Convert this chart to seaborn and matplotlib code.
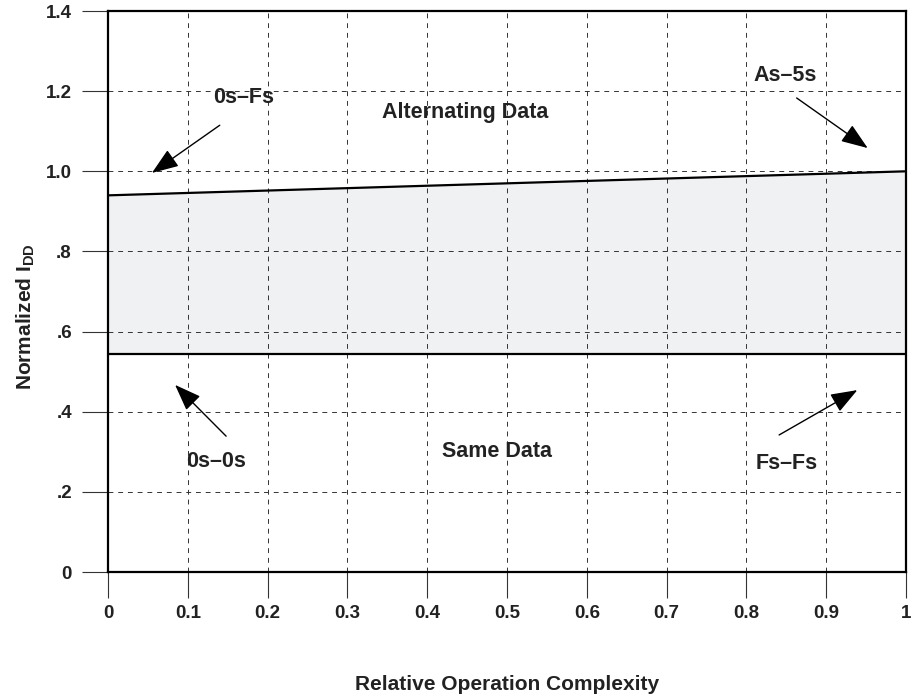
import matplotlib
matplotlib.use("Agg")
import matplotlib.pyplot as plt
import seaborn as sns
import pandas as pd

# data
complexity = [0.0, 1.0]
alternating_idd = [0.94, 1.0]
same_idd = [0.545, 0.545]
x_ticks = [0, 0.1, 0.2, 0.3, 0.4, 0.5, 0.6, 0.7, 0.8, 0.9, 1.0]
x_tick_labels = ["0", "0.1", "0.2", "0.3", "0.4", "0.5", "0.6", "0.7", "0.8", "0.9", "1"]
y_ticks = [0, 0.2, 0.4, 0.6, 0.8, 1.0, 1.2, 1.4]
y_tick_labels = ["0", ".2", ".4", ".6", ".8", "1.0", "1.2", "1.4"]

sns.set_theme(style="white")
plt.rcParams["font.family"] = ["Liberation Sans", "DejaVu Sans"]
plt.rcParams["font.weight"] = "bold"
plt.rcParams["mathtext.fontset"] = "custom"
plt.rcParams["mathtext.rm"] = "Liberation Sans:bold"
plt.rcParams["mathtext.bf"] = "Liberation Sans:bold"
plt.rcParams["mathtext.it"] = "Liberation Sans:bold"

fig = plt.figure(figsize=(9.11, 6.98), dpi=100)
ax = fig.add_axes([0.1186, 0.1805, 0.8759, 0.8037])

df = pd.DataFrame({"x": complexity, "alt": alternating_idd, "same": same_idd})
ax.fill_between(df["x"], df["same"], df["alt"], color="#f0f1f3", zorder=1, linewidth=0)
sns.lineplot(data=df, x="x", y="alt", color="black", linewidth=1.6, ax=ax, zorder=3)
sns.lineplot(data=df, x="x", y="same", color="black", linewidth=1.6, ax=ax, zorder=3)

ax.set_xlim(0, 1)
ax.set_ylim(0, 1.4)
ax.set_xticks(x_ticks)
ax.set_xticklabels(x_tick_labels)
ax.set_yticks(y_ticks)
ax.set_yticklabels(y_tick_labels)

ax.grid(True, linestyle=(0, (5, 5)), color="#333333", linewidth=0.7, zorder=2)
ax.set_axisbelow(False)
for s in ax.spines.values():
    s.set_visible(True)
    s.set_color("black")
    s.set_linewidth(1.6)
    s.set_zorder(4)

ax.tick_params(axis="both", which="major", direction="out", length=19, width=0.8,
               color="#333333", labelsize=13.5, labelcolor="#222222", bottom=True, left=True)
ax.tick_params(axis="x", pad=5)
ax.tick_params(axis="y", pad=7)
for lab in ax.get_xticklabels() + ax.get_yticklabels():
    lab.set_fontweight("bold")

ax.set_xlabel("Relative Operation Complexity", fontsize=15, fontweight="bold", color="#222222")
ax.set_ylabel(r"Normalized I$_{\mathrm{DD}}$", fontsize=15, fontweight="bold", color="#222222")
ax.xaxis.set_label_coords(0.5, -0.201, transform=ax.transAxes)
ax.yaxis.set_label_coords(-0.103, 0.456, transform=ax.transAxes)
ax.xaxis.label.set_va("center")
ax.yaxis.label.set_va("center")

tkw = dict(fontsize=15.5, fontweight="bold", ha="center", va="center", zorder=5, color="#222222")
akw = dict(arrowstyle="-|>,head_length=0.75,head_width=0.28", mutation_scale=22, lw=1.0,
           color="black", shrinkA=0, shrinkB=0)

ax.text(0.447, 1.146, "Alternating Data", **tkw)
ax.text(0.487, 0.30, "Same Data", **tkw)

ax.annotate("", xy=(0.055, 0.996), xytext=(0.14, 1.115), arrowprops=akw)
ax.text(0.17, 1.183, "0s\u2013Fs", **tkw)

ax.annotate("", xy=(0.952, 1.058), xytext=(0.863, 1.183), arrowprops=akw)
ax.text(0.848, 1.24, "As\u20135s", **tkw)

ax.annotate("", xy=(0.084, 0.467), xytext=(0.148, 0.339), arrowprops=akw)
ax.text(0.135, 0.275, "0s\u20130s", **tkw)

ax.annotate("", xy=(0.939, 0.454), xytext=(0.841, 0.342), arrowprops=akw)
ax.text(0.851, 0.272, "Fs\u2013Fs", **tkw)

fig.savefig("out.png", dpi=100)
